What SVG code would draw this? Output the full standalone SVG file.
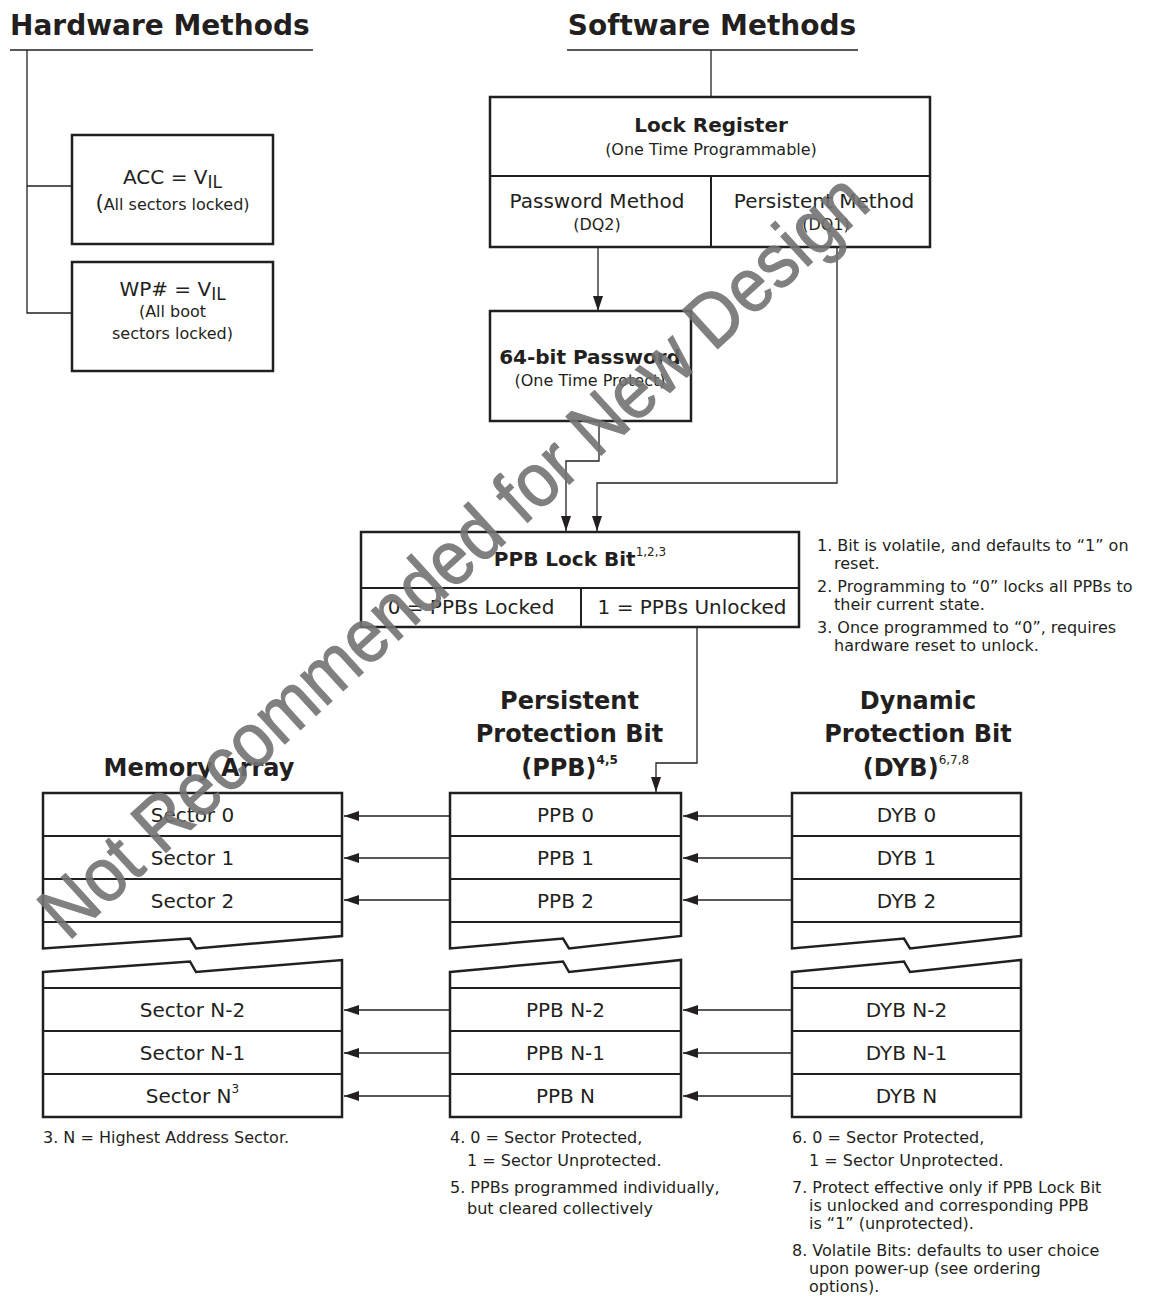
<svg xmlns="http://www.w3.org/2000/svg" width="1155" height="1311" viewBox="0 0 1155 1311">
<defs>
<style>
text { font-family: "DejaVu Sans", Verdana, sans-serif; fill: #231f20; }
.title { font-size: 28px; font-weight: bold; }
.head { font-size: 24px; font-weight: bold; text-anchor: middle; }
.lbl { font-size: 20px; text-anchor: middle; }
.blbl { font-size: 20px; font-weight: bold; text-anchor: middle; }
.sub { font-size: 16px; text-anchor: middle; }
.note { font-size: 16px; }
.box { fill: #fff; stroke: #231f20; stroke-width: 2.5; }
.div { stroke: #231f20; stroke-width: 2; fill: none; }
.conn { stroke: #231f20; stroke-width: 1.3; fill: none; }
.wm { font-family: "Liberation Sans", Arial, sans-serif; fill: #737373; stroke: #737373; stroke-width: 1.2; opacity: 0.9; }
</style>
<marker id="ah" markerUnits="userSpaceOnUse" markerWidth="16" markerHeight="10" refX="15" refY="5" orient="auto">
<path d="M0,0 L15,5 L0,10 Z" fill="#231f20"/>
</marker>
</defs>
<rect x="0" y="0" width="1155" height="1311" fill="#fff"/>

<g id="connectors">
<line class="conn" x1="10" y1="50" x2="313" y2="50"/>
<polyline class="conn" points="27,50 27,313 72,313"/>
<line class="conn" x1="27" y1="186" x2="72" y2="186"/>
<line class="conn" x1="567" y1="50" x2="858" y2="50"/>
<line class="conn" x1="711" y1="50" x2="711" y2="97"/>
<line class="conn" x1="598" y1="247" x2="598" y2="311" marker-end="url(#ah)"/>
<polyline class="conn" points="837,247 837,483 597,483 597,531" marker-end="url(#ah)"/>
<polyline class="conn" points="599,421 599,461 566,461 566,531" marker-end="url(#ah)"/>
<polyline class="conn" points="697,627 697,763 656,763 656,792" marker-end="url(#ah)"/>
<line class="conn" x1="450" y1="816" x2="344" y2="816" marker-end="url(#ah)"/>
<line class="conn" x1="450" y1="858" x2="344" y2="858" marker-end="url(#ah)"/>
<line class="conn" x1="450" y1="900" x2="344" y2="900" marker-end="url(#ah)"/>
<line class="conn" x1="450" y1="1010" x2="344" y2="1010" marker-end="url(#ah)"/>
<line class="conn" x1="450" y1="1053" x2="344" y2="1053" marker-end="url(#ah)"/>
<line class="conn" x1="450" y1="1096" x2="344" y2="1096" marker-end="url(#ah)"/>
<line class="conn" x1="792" y1="816" x2="683" y2="816" marker-end="url(#ah)"/>
<line class="conn" x1="792" y1="858" x2="683" y2="858" marker-end="url(#ah)"/>
<line class="conn" x1="792" y1="900" x2="683" y2="900" marker-end="url(#ah)"/>
<line class="conn" x1="792" y1="1010" x2="683" y2="1010" marker-end="url(#ah)"/>
<line class="conn" x1="792" y1="1053" x2="683" y2="1053" marker-end="url(#ah)"/>
<line class="conn" x1="792" y1="1096" x2="683" y2="1096" marker-end="url(#ah)"/>
</g>

<text class="title" x="10" y="35">Hardware Methods</text>
<text class="title" x="712" y="35" text-anchor="middle">Software Methods</text>

<g id="acc">
<rect class="box" x="72" y="135" width="201" height="109"/>
<text class="lbl" x="172.5" y="184" font-size="21">ACC = V<tspan font-size="17" dy="4">IL</tspan></text>
<text class="sub" x="172.5" y="210"><tspan font-size="21">(</tspan>All sectors locked)</text>
</g>

<g id="wp">
<rect class="box" x="72" y="262" width="201" height="109"/>
<text class="lbl" x="172.5" y="296" font-size="21">WP# = V<tspan font-size="17" dy="4">IL</tspan></text>
<text class="sub" x="172.5" y="317">(All boot</text>
<text class="sub" x="172.5" y="339">sectors locked)</text>
</g>

<g id="lock-register">
<rect class="box" x="490" y="97" width="440" height="150"/>
<line class="div" x1="490" y1="176" x2="930" y2="176"/>
<line class="div" x1="711" y1="176" x2="711" y2="247"/>
<text class="blbl" x="711" y="132">Lock Register</text>
<text class="sub" x="711" y="155">(One Time Programmable)</text>
<text class="lbl" x="597" y="208">Password Method</text>
<text class="sub" x="597" y="230">(DQ2)</text>
<text class="lbl" x="824" y="208">Persistent Method</text>
<text class="sub" x="826" y="230">(DQ1)</text>
</g>

<g id="password">
<rect class="box" x="490" y="311" width="201" height="110"/>
<text class="blbl" x="590" y="364">64-bit Password</text>
<text class="sub" x="590" y="386">(One Time Protect)</text>
</g>

<g id="ppb-lock-bit">
<rect class="box" x="361" y="532" width="438" height="95"/>
<line class="div" x1="361" y1="588" x2="799" y2="588"/>
<line class="div" x1="581" y1="588" x2="581" y2="627"/>
<text class="blbl" x="580" y="566">PPB Lock Bit<tspan font-size="12" font-weight="normal" dy="-10">1,2,3</tspan></text>
<text class="lbl" x="471" y="614">0 = PPBs Locked</text>
<text class="lbl" x="692" y="614">1 = PPBs Unlocked</text>
</g>

<g id="lock-notes">
<text class="note" x="817" y="551">1. Bit is volatile, and defaults to “1” on</text>
<text class="note" x="834" y="569">reset.</text>
<text class="note" x="817" y="592">2. Programming to “0” locks all PPBs to</text>
<text class="note" x="834" y="610">their current state.</text>
<text class="note" x="817" y="633">3. Once programmed to “0”, requires</text>
<text class="note" x="834" y="651">hardware reset to unlock.</text>
</g>

<g id="memory-array">
<text class="head" x="199" y="776">Memory Array</text>
<path class="box" d="M43,948.5 V793 H342 V936 L196,948.5 L190,938.5 Z"/>
<line class="div" x1="43" y1="836" x2="342" y2="836"/>
<line class="div" x1="43" y1="879" x2="342" y2="879"/>
<line class="div" x1="43" y1="922" x2="342" y2="922"/>
<path class="box" d="M43,972 L190,961.5 L196,972 L342,960 V1117 H43 Z"/>
<line class="div" x1="43" y1="988" x2="342" y2="988"/>
<line class="div" x1="43" y1="1031" x2="342" y2="1031"/>
<line class="div" x1="43" y1="1074" x2="342" y2="1074"/>
<text class="lbl" x="192.5" y="822">Sector 0</text>
<text class="lbl" x="192.5" y="865">Sector 1</text>
<text class="lbl" x="192.5" y="908">Sector 2</text>
<text class="lbl" x="192.5" y="1017">Sector N-2</text>
<text class="lbl" x="192.5" y="1060">Sector N-1</text>
<text class="lbl" x="192.5" y="1103">Sector N<tspan font-size="12" dy="-10">3</tspan></text>
<text class="note" x="43" y="1143">3. N = Highest Address Sector.</text>
</g>

<g id="ppb">
<text class="head" x="569.5" y="709">Persistent</text>
<text class="head" x="569.5" y="742">Protection Bit</text>
<text class="head" x="569.5" y="776">(PPB)<tspan font-size="12" dy="-12">4,5</tspan></text>
<path class="box" d="M450,948.5 V793 H681 V936 L569,948.5 L563,938.5 Z"/>
<line class="div" x1="450" y1="836" x2="681" y2="836"/>
<line class="div" x1="450" y1="879" x2="681" y2="879"/>
<line class="div" x1="450" y1="922" x2="681" y2="922"/>
<path class="box" d="M450,972 L563,961.5 L569,972 L681,960 V1117 H450 Z"/>
<line class="div" x1="450" y1="988" x2="681" y2="988"/>
<line class="div" x1="450" y1="1031" x2="681" y2="1031"/>
<line class="div" x1="450" y1="1074" x2="681" y2="1074"/>
<text class="lbl" x="565.5" y="822">PPB 0</text>
<text class="lbl" x="565.5" y="865">PPB 1</text>
<text class="lbl" x="565.5" y="908">PPB 2</text>
<text class="lbl" x="565.5" y="1017">PPB N-2</text>
<text class="lbl" x="565.5" y="1060">PPB N-1</text>
<text class="lbl" x="565.5" y="1103">PPB N</text>
<text class="note" x="450" y="1143">4. 0 = Sector Protected,</text>
<text class="note" x="467" y="1166">1 = Sector Unprotected.</text>
<text class="note" x="450" y="1193">5. PPBs programmed individually,</text>
<text class="note" x="467" y="1214">but cleared collectively</text>
</g>

<g id="dyb">
<text class="head" x="918" y="709">Dynamic</text>
<text class="head" x="918" y="742">Protection Bit</text>
<text class="head" x="916" y="776">(DYB)<tspan font-size="12" font-weight="normal" dy="-12">6,7,8</tspan></text>
<path class="box" d="M792,948.5 V793 H1021 V936 L910,948.5 L904,938.5 Z"/>
<line class="div" x1="792" y1="836" x2="1021" y2="836"/>
<line class="div" x1="792" y1="879" x2="1021" y2="879"/>
<line class="div" x1="792" y1="922" x2="1021" y2="922"/>
<path class="box" d="M792,972 L904,961.5 L910,972 L1021,960 V1117 H792 Z"/>
<line class="div" x1="792" y1="988" x2="1021" y2="988"/>
<line class="div" x1="792" y1="1031" x2="1021" y2="1031"/>
<line class="div" x1="792" y1="1074" x2="1021" y2="1074"/>
<text class="lbl" x="906.5" y="822">DYB 0</text>
<text class="lbl" x="906.5" y="865">DYB 1</text>
<text class="lbl" x="906.5" y="908">DYB 2</text>
<text class="lbl" x="906.5" y="1017">DYB N-2</text>
<text class="lbl" x="906.5" y="1060">DYB N-1</text>
<text class="lbl" x="906.5" y="1103">DYB N</text>
<text class="note" x="792" y="1143">6. 0 = Sector Protected,</text>
<text class="note" x="809" y="1166">1 = Sector Unprotected.</text>
<text class="note" x="792" y="1193">7. Protect effective only if PPB Lock Bit</text>
<text class="note" x="809" y="1211">is unlocked and corresponding PPB</text>
<text class="note" x="809" y="1229">is “1” (unprotected).</text>
<text class="note" x="792" y="1256">8. Volatile Bits: defaults to user choice</text>
<text class="note" x="809" y="1274">upon power-up (see ordering</text>
<text class="note" x="809" y="1292">options).</text>
</g>

<text class="wm" transform="translate(68,942) rotate(-42.4)" x="0" y="0" font-size="76" textLength="1090" lengthAdjust="spacingAndGlyphs">Not Recommended for New Design</text>
</svg>
